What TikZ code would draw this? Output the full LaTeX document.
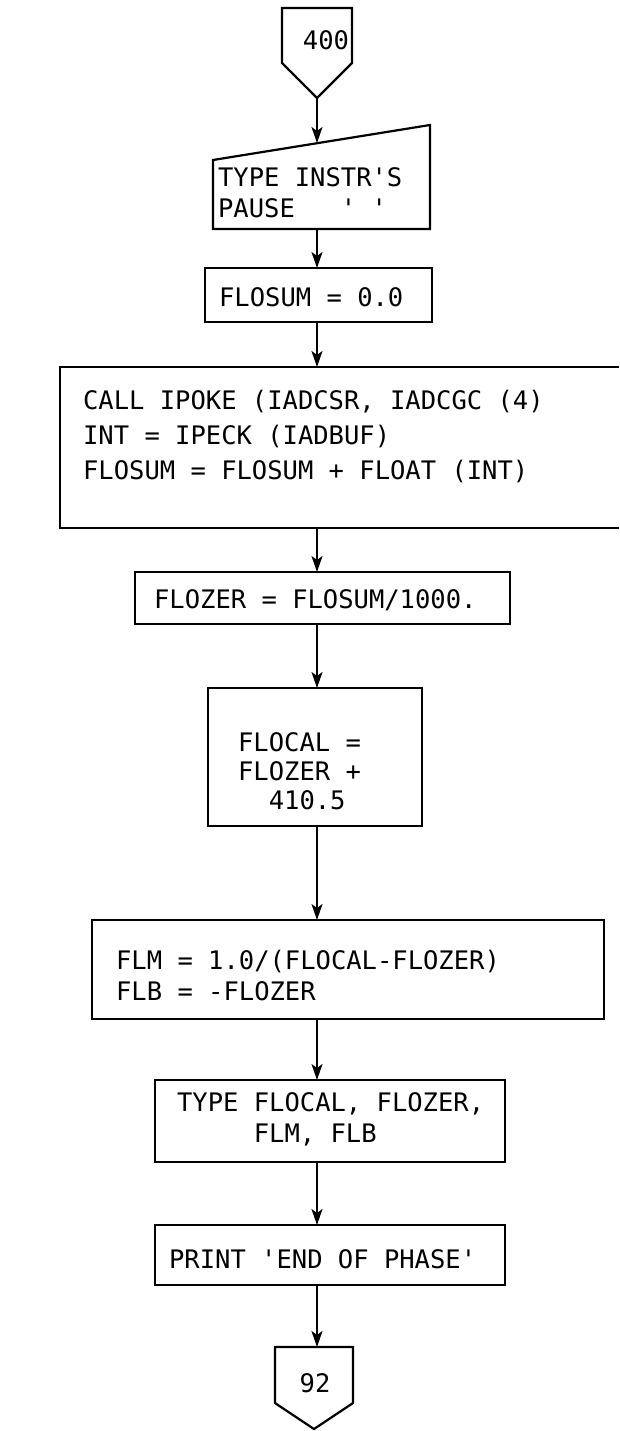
\documentclass[tikz,border=0pt]{standalone}
\usepackage{fontspec}
\setmonofont{DejaVu Sans Mono}
\usetikzlibrary{arrows.meta}
\begin{document}
\begin{tikzpicture}[x=1pt,y=-1pt,
  line width=2.2pt,
  box/.style={draw, rectangle, inner sep=0pt, outer sep=0pt},
  txt/.style={font=\ttfamily\fontsize{25.5}{31}\selectfont, align=left, inner sep=0pt, anchor=west},
  arr/.style={-{Stealth[length=16pt,width=11pt,inset=4pt]}, line width=2.2pt}]
\useasboundingbox (0,0) rectangle (619,1431);
\coordinate (ax) at (317,0);
% off-page connector 400
\coordinate (c400tl) at (282,8);
\coordinate (c400tr) at (352,8);
\coordinate (c400br) at (352,63);
\coordinate (c400bl) at (282,63);
\coordinate (c400tip) at (317,98);
\draw (c400tl) -- (c400tr) -- (c400br) -- (c400tip) -- (c400bl) -- cycle;
\node[txt, anchor=center] (t400) at (326,40) {400};
% manual input
\coordinate (mtl) at (213,160);
\coordinate (mtr) at (430,125);
\coordinate (mbr) at (430,229);
\coordinate (mbl) at (213,229);
\coordinate (mtop) at (317,143);
\coordinate (mbot) at (317,229);
\draw (mtl) -- (mtr) -- (mbr) -- (mbl) -- cycle;
\node[txt] (tman) at (217,193) {TYPE INSTR'S\\PAUSE\ \ \ '\ '};
% FLOSUM = 0.0
\node[box, minimum width=227pt, minimum height=54pt] (flosum) at (318.5,295) {};
\node[txt] (tflosum) at (218,297) {FLOSUM = 0.0};
% big box (cut by the right edge)
\node[rectangle, inner sep=0pt, outer sep=0pt, minimum width=559pt, minimum height=161pt] (big) at (339.5,447.5) {};
\draw (big.north east) -- (big.north west) -- (big.south west) -- (big.south east);
\node[txt, font=\ttfamily\fontsize{25.5}{35}\selectfont] (tbig) at (82,437) {CALL IPOKE (IADCSR, IADCGC (4)\\INT = IPECK (IADBUF)\\FLOSUM = FLOSUM + FLOAT (INT)};
% FLOZER
\node[box, minimum width=375pt, minimum height=52pt] (flozer) at (322.5,598) {};
\node[txt] (tflozer) at (153,600) {FLOZER = FLOSUM/1000.};
% FLOCAL
\node[box, minimum width=214pt, minimum height=138pt] (flocal) at (315,757) {};
\node[txt, font=\ttfamily\fontsize{25.5}{29}\selectfont] (tflocal) at (237,771) {FLOCAL =\\FLOZER +\\\hphantom{00}410.5};
% FLM
\node[box, minimum width=512pt, minimum height=99pt] (flm) at (348,969.5) {};
\node[txt] (tflm) at (115,975) {FLM = 1.0/(FLOCAL-FLOZER)\\FLB = -FLOZER};
% TYPE
\node[box, minimum width=350pt, minimum height=82pt] (typ) at (330,1121) {};
\node[txt] (ttyp) at (176,1119) {TYPE FLOCAL, FLOZER,\\\hphantom{00000}FLM, FLB};
% PRINT
\node[box, minimum width=350pt, minimum height=60pt] (prt) at (330,1255) {};
\node[txt] (tprt) at (168,1259) {PRINT 'END OF PHASE'};
% off-page connector 92
\coordinate (c92tl) at (275,1347);
\coordinate (c92tr) at (353,1347);
\coordinate (c92br) at (353,1403);
\coordinate (c92bl) at (275,1403);
\coordinate (c92tip) at (314,1429);
\coordinate (c92top) at (317,1347);
\draw (c92tl) -- (c92tr) -- (c92br) -- (c92tip) -- (c92bl) -- cycle;
\node[txt, anchor=center] (t92) at (315,1383) {92};
% connectors
\draw[arr] (c400tip) -- (mtop);
\draw[arr] (mbot) -- (flosum.north -| ax);
\draw[arr] (flosum.south -| ax) -- (big.north -| ax);
\draw[arr] (big.south -| ax) -- (flozer.north -| ax);
\draw[arr] (flozer.south -| ax) -- (flocal.north -| ax);
\draw[arr] (flocal.south -| ax) -- (flm.north -| ax);
\draw[arr] (flm.south -| ax) -- (typ.north -| ax);
\draw[arr] (typ.south -| ax) -- (prt.north -| ax);
\draw[arr] (prt.south -| ax) -- (c92top);
\end{tikzpicture}
\end{document}
